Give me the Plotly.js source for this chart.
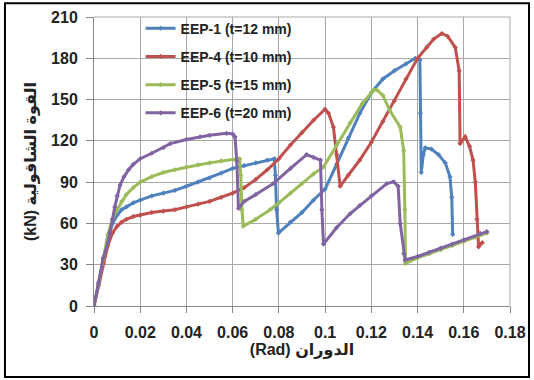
<!DOCTYPE html>
<html>
<head>
<meta charset="utf-8">
<script src="https://cdn.plot.ly/plotly-3.0.1.min.js"></script>
<style>html,body{margin:0;padding:0;background:#fff;}#chart{width:534px;height:380px;}</style>
</head>
<body>
<div id="chart"></div>
<script>
// Series names
const seriesNames = ["EEP-1 (t=12 mm)", "EEP-4 (t=10 mm)", "EEP-5 (t=15 mm)", "EEP-6 (t=20 mm)"];
const seriesColors = ["#4F81BD", "#C0504D", "#9BBB59", "#8064A2"];

// EEP-1
const x1 = [0,0.002,0.004,0.006,0.008,0.010,0.012,0.014,0.017,0.020,0.025,0.030,0.035,0.040,0.045,0.050,0.055,0.060,0.065,0.070,0.075,0.078,0.0785,0.079,0.0798,0.085,0.090,0.095,0.100,0.105,0.110,0.115,0.120,0.125,0.130,0.135,0.1390,0.1410,0.1412,0.1416,0.1425,0.1433,0.1460,0.1490,0.1520,0.1540,0.1548,0.1552];
const y1 = [0,16,33,48,60,66,70,72,75,77,80,82,84,87,90,93,96.5,100,102,104,106,107,95,70,53,61,68,77,85,103,122,140,155,165,171,176,180,179,140,97,110,115,114,110,104,94,79,52];

// EEP-4
const x4 = [0,0.002,0.004,0.006,0.008,0.010,0.012,0.014,0.017,0.020,0.025,0.030,0.035,0.040,0.045,0.050,0.055,0.060,0.065,0.070,0.075,0.080,0.085,0.090,0.095,0.100,0.1015,0.1036,0.1050,0.1065,0.110,0.115,0.120,0.125,0.130,0.135,0.140,0.144,0.147,0.1505,0.153,0.1563,0.1580,0.1584,0.1606,0.1625,0.1640,0.1650,0.1657,0.1664,0.1680];
const y4 = [0,15,31,44,53,58,61,63,65,66,68,69,70,72,74,76,79,82,86,92,99,107,117,126,135,143,140,130,110,87,95,106,119,134,149,165,180,188,194,198,196,188,171,118,123,116,106,90,63,43,46];

// EEP-5
const x5 = [0,0.002,0.004,0.006,0.008,0.010,0.012,0.014,0.017,0.020,0.025,0.030,0.035,0.040,0.045,0.050,0.055,0.060,0.063,0.0635,0.064,0.0646,0.070,0.0762,0.080,0.085,0.090,0.095,0.0993,0.105,0.1108,0.116,0.121,0.1224,0.125,0.128,0.1325,0.134,0.1345,0.1348,0.140,0.145,0.150,0.155,0.160,0.165,0.170];
const y5 = [0,16,34,52,63,70,76,81,86,90,94,97,99,101,102.5,104,105.5,106.5,107,95,70,58,63,70,75,82,89,96,101,117,133,147,157,157,153,142,130,113,70,31,35,38,41,44,47,50,53];

// EEP-6
const x6 = [0,0.002,0.004,0.006,0.0069,0.008,0.009,0.010,0.0113,0.013,0.015,0.017,0.020,0.025,0.030,0.033,0.040,0.0459,0.050,0.0574,0.060,0.061,0.0618,0.0625,0.065,0.070,0.0776,0.085,0.092,0.095,0.098,0.0986,0.0993,0.105,0.1108,0.115,0.120,0.1267,0.1296,0.1316,0.1325,0.134,0.1346,0.140,0.145,0.150,0.155,0.160,0.1671,0.170];
const y6 = [0,17,35,46,53,63,72,80,88,94,99,103,107,111,115,118,121,123,124,125.5,125,123,105,71,76,81,89,100,110,108,106,70,45,57,67,73,80,89,90.3,87,60,38,33.4,36,39,42,45,48,52.8,54];

// Axis ticks
const xTicks = [0,0.02,0.04,0.06,0.08,0.1,0.12,0.14,0.16,0.18];
const xTickText = ["0","0.02","0.04","0.06","0.08","0.1","0.12","0.14","0.16","0.18"];
const yTicks = [0,30,60,90,120,150,180,210];

const xs = [x1, x4, x5, x6];
const ys = [y1, y4, y5, y6];

const traces = seriesNames.map((n, i) => ({
  type: 'scatter', mode: 'lines+markers', name: n,
  x: xs[i], y: ys[i], legendgroup: 'g' + i,
  line: {color: seriesColors[i], width: 3},
  marker: {color: seriesColors[i], size: 4, symbol: 'diamond'}
}));

const font = "'Liberation Sans', 'DejaVu Sans', Arial, sans-serif";

const layout = {
  width: 534, height: 380,
  margin: {l: 94, r: 24, t: 17, b: 74},
  paper_bgcolor: '#fff', plot_bgcolor: '#fff',
  font: {family: font, size: 12, color: '#222'},
  showlegend: true,
  legend: {
    x: 0.112, y: 1.015, xanchor: 'left', yanchor: 'top',
    bgcolor: 'rgba(0,0,0,0)', borderwidth: 0,
    tracegroupgap: 7,
    font: {family: font, size: 14, color: '#222', weight: 'bold'}
  },
  xaxis: {
    range: [0, 0.18], tickvals: xTicks, ticktext: xTickText,
    showgrid: true, gridcolor: '#a8a8a8', gridwidth: 1,
    zeroline: false, showline: true, linecolor: '#888', linewidth: 1,
    ticks: 'outside', ticklen: 6, tickcolor: '#888',
    ticklabelstandoff: 6,
    tickfont: {family: font, size: 16, color: '#222', weight: 'bold'},
    title: {text: '(Rad) الدوران', font: {family: font, size: 16, color: '#222', weight: 'bold'}, standoff: 0}
  },
  yaxis: {
    range: [0, 210], tickvals: yTicks,
    showgrid: true, gridcolor: '#a8a8a8', gridwidth: 1,
    zeroline: false, showline: true, linecolor: '#888', linewidth: 1,
    ticks: 'outside', ticklen: 7, tickcolor: '#888',
    ticklabelstandoff: 5,
    tickfont: {family: font, size: 16, color: '#222', weight: 'bold'},
    title: {text: '(kN) القوة الشاقولية', font: {family: font, size: 16, color: '#222', weight: 'bold'}, standoff: 10}
  },
  shapes: [
    {type: 'rect', xref: 'paper', yref: 'paper', x0: -0.214, x1: 1.0457, y0: -0.2457, y1: 1.048,
     line: {color: '#000', width: 2}, fillcolor: 'rgba(0,0,0,0)', layer: 'above'},
    {type: 'line', xref: 'paper', yref: 'paper', x0: 1, x1: 1, y0: 0, y1: 1, line: {color: '#a8a8a8', width: 1}},
    {type: 'line', xref: 'paper', yref: 'paper', x0: 0, x1: 1, y0: 1, y1: 1, line: {color: '#a8a8a8', width: 1}}
  ]
};

Plotly.newPlot('chart', traces, layout, {displayModeBar: false, staticPlot: true});
</script>
</body>
</html>
